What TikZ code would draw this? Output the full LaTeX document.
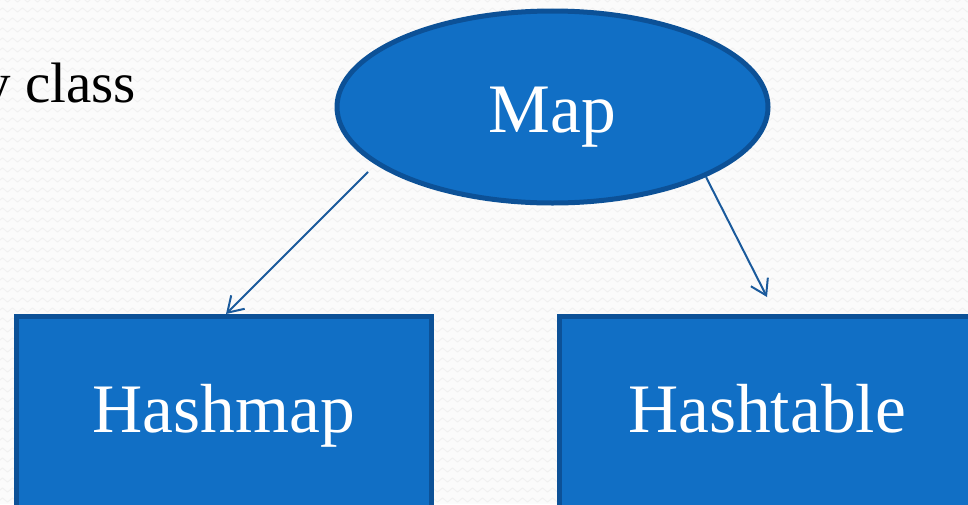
\documentclass[tikz,border=0pt]{standalone}
\usepackage{fontspec}
\setmainfont{Liberation Serif}
\usetikzlibrary{shapes.geometric,arrows.meta,decorations.pathmorphing}

\definecolor{bgpaper}{HTML}{FBFBFB}
\definecolor{bgwave}{HTML}{F1F1F1}
\definecolor{boxfill}{HTML}{116FC5}
\definecolor{boxline}{HTML}{0C5197}
\definecolor{arrowline}{HTML}{1A5A9C}

\tikzset{
  classbox/.style={draw=boxline, fill=boxfill, line width=5pt, inner sep=0pt,
    text=white, font=\fontsize{69.5}{80}\selectfont},
  rootshape/.style={classbox, ellipse, minimum width=431pt, minimum height=192pt,
    text height=50pt, text depth=0pt},
  leafshape/.style={classbox, rectangle, minimum width=415pt, minimum height=200pt,
    text height=46pt, text depth=15pt},
  inherit/.style={draw=arrowline, line width=2pt,
    -{Straight Barb[length=15pt, width=19pt, line width=2pt]}},
  wave/.style={draw=bgwave, line width=1pt,
    decorate, decoration={zigzag, segment length=10pt, amplitude=2pt}},
}

\begin{document}
\begin{tikzpicture}[x=1pt, y=-1pt]
  \useasboundingbox (0,0) rectangle (968,504);

  % paper background with a faint wavy texture
  \fill[bgpaper] (0,0) rectangle (968,504);
  \foreach \r in {0,10,...,510} {
    \draw[wave] (-10,\r) -- (980,\r);
  }

  % heading fragment, running in from the left edge
  \node[anchor=base east, inner sep=0pt, font=\fontsize{57}{68}\selectfont]
    (heading) at (136,102) {y class};

  % class hierarchy
  \node[rootshape] (map) at (552.5,107) {Map};
  \node[leafshape] (hashmap) at (224,416.5) {Hashmap};
  \node[leafshape] (hashtable) at (767,416.5) {Hashtable};

  % inheritance arrows
  \coordinate (fromleft) at (368,172);
  \coordinate (fromright) at (706,177);
  \draw[inherit] (fromleft) -- ([xshift=2pt]hashmap.north);
  \draw[inherit] (fromright) -- ([yshift=17pt]hashtable.north);
\end{tikzpicture}
\end{document}
